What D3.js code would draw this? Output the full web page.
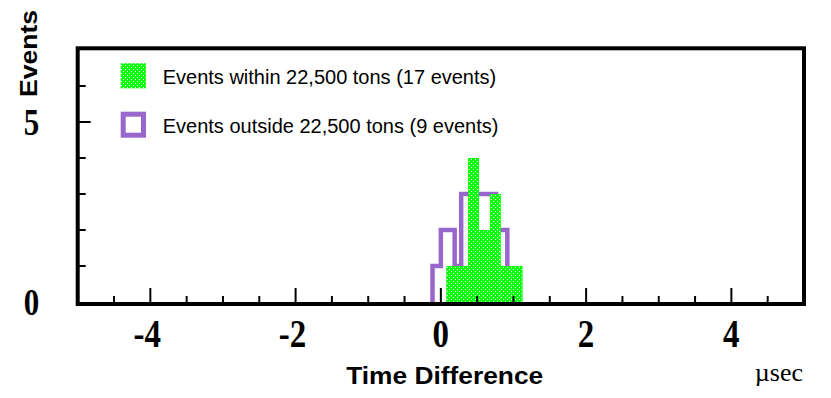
<!DOCTYPE html>
<html>
<head>
<meta charset="utf-8">
<script src="https://cdn.jsdelivr.net/npm/d3@7"></script>
<style>
  body { margin: 0; background: #fff; }
  svg { display: block; }
</style>
</head>
<body>
<div id="chart"></div>
<script>
// histogram bins (time difference, usec)
var greenEdges = [0.075, 0.225, 0.375, 0.525, 0.675, 0.825, 0.975, 1.125];
var greenCounts = [1, 1, 4, 2, 3, 1, 1];
var purpleEdges = [-0.115, 0, 0.19, 0.28, 0.76, 0.915];
var purpleCounts = [1, 2, 1, 3, 2];

var xMajorTicks = [-4, -2, 0, 2, 4];
var xMinorTicks = [-4.5, -3.5, -3, -2.5, -1.5, -1, -0.5, 0.5, 1, 1.5, 2.5, 3, 3.5, 4.5];
var yMajorTicks = [5];
var yMinorTicks = [1, 2, 3, 4, 6];
var yTickLabels = [0, 5];

var legendLabels = ['Events within 22,500 tons (17 events)', 'Events outside 22,500 tons (9 events)'];

var width = 831, height = 398;

var x = d3.scaleLinear().domain([-5, 5]).range([77.7, 804]);
var y = d3.scaleLinear().domain([0, 7]).range([302, 50]);

var svg = d3.select('#chart').append('svg')
    .attr('width', width)
    .attr('height', height);

// dotted green fill
var pat = svg.append('defs').append('pattern')
    .attr('id', 'dots')
    .attr('patternUnits', 'userSpaceOnUse')
    .attr('width', 4)
    .attr('height', 4);
pat.append('rect').attr('width', 4).attr('height', 4).attr('fill', '#00ff00');
pat.append('rect').attr('x', 1).attr('y', 1).attr('width', 1).attr('height', 1).attr('fill', '#fff');
pat.append('rect').attr('x', 3).attr('y', 3).attr('width', 1).attr('height', 1).attr('fill', '#fff');

// outside events: step outline
var pts = [[purpleEdges[0], 0]];
purpleCounts.forEach(function(c, i) {
    pts.push([purpleEdges[i], c]);
    pts.push([purpleEdges[i + 1], c]);
});
pts.push([purpleEdges[purpleEdges.length - 1], 0]);

svg.append('path')
    .attr('d', d3.line().x(function(d) { return x(d[0]); }).y(function(d) { return y(d[1]); })(pts))
    .attr('fill', 'none')
    .attr('stroke', '#9966cc')
    .attr('stroke-width', 4.5);

// inside events: filled bars
svg.selectAll('rect.bar')
    .data(greenCounts)
    .enter().append('rect')
    .attr('class', 'bar')
    .attr('x', function(d, i) { return x(greenEdges[i]); })
    .attr('y', function(d) { return y(d); })
    .attr('width', function(d, i) { return x(greenEdges[i + 1]) - x(greenEdges[i]); })
    .attr('height', function(d) { return y(0) - y(d); })
    .attr('fill', 'url(#dots)');

// frame
svg.append('rect')
    .attr('x', x(-5))
    .attr('y', y(7) - 1.7)
    .attr('width', x(5) - x(-5))
    .attr('height', y(0) + 2 - (y(7) - 1.7))
    .attr('fill', 'none')
    .attr('stroke', '#000')
    .attr('stroke-width', 4);

var yBase = y(0) + 2;

// x ticks
svg.selectAll('line.xmin').data(xMinorTicks).enter().append('line')
    .attr('x1', function(d) { return x(d); }).attr('x2', function(d) { return x(d); })
    .attr('y1', yBase).attr('y2', yBase - 8)
    .attr('stroke', '#000').attr('stroke-width', 2);
svg.selectAll('line.xmaj').data(xMajorTicks).enter().append('line')
    .attr('x1', function(d) { return x(d); }).attr('x2', function(d) { return x(d); })
    .attr('y1', yBase).attr('y2', yBase - 16)
    .attr('stroke', '#000').attr('stroke-width', 2);

// y ticks
var xBase = x(-5);
svg.selectAll('line.ymin').data(yMinorTicks).enter().append('line')
    .attr('x1', xBase).attr('x2', xBase + 8)
    .attr('y1', function(d) { return y(d); }).attr('y2', function(d) { return y(d); })
    .attr('stroke', '#000').attr('stroke-width', 2);
svg.selectAll('line.ymaj').data(yMajorTicks).enter().append('line')
    .attr('x1', xBase).attr('x2', xBase + 13)
    .attr('y1', function(d) { return y(d); }).attr('y2', function(d) { return y(d); })
    .attr('stroke', '#000').attr('stroke-width', 2);

// tick labels (tall serif digits)
svg.selectAll('text.xl').data(xMajorTicks).enter().append('text')
    .attr('transform', function(d) { return 'translate(' + (x(d) - (d < 0 ? 3 : 0)) + ',346.5) scale(1,1.2)'; })
    .attr('text-anchor', 'middle')
    .style('font-family', '"Liberation Serif", "DejaVu Serif", serif')
    .style('font-weight', 'bold')
    .style('font-size', '33px')
    .text(function(d) { return d; });

svg.selectAll('text.yl').data(yTickLabels).enter().append('text')
    .attr('transform', function(d) { return 'translate(31.5,' + (y(d) + 13) + ') scale(1,1.25)'; })
    .attr('text-anchor', 'middle')
    .style('font-family', '"Liberation Serif", "DejaVu Serif", serif')
    .style('font-weight', 'bold')
    .style('font-size', '31px')
    .text(function(d) { return d; });

// axis titles
svg.append('text')
    .attr('x', 444.7)
    .attr('y', 384.3)
    .attr('text-anchor', 'middle')
    .attr('textLength', 197)
    .attr('lengthAdjust', 'spacingAndGlyphs')
    .style('font-family', '"Liberation Sans", Arial, sans-serif')
    .style('font-weight', 'bold')
    .style('font-size', '24px')
    .text('Time Difference');

svg.append('text')
    .attr('x', 803)
    .attr('y', 381)
    .attr('text-anchor', 'end')
    .style('font-family', '"Liberation Serif", "DejaVu Serif", serif')
    .style('font-size', '26px')
    .text('\u00b5sec');

svg.append('text')
    .attr('transform', 'translate(37,53.5) rotate(-90)')
    .attr('text-anchor', 'middle')
    .attr('textLength', 87)
    .attr('lengthAdjust', 'spacingAndGlyphs')
    .style('font-family', '"Liberation Sans", Arial, sans-serif')
    .style('font-weight', 'bold')
    .style('font-size', '24px')
    .text('Events');

// legend
svg.append('rect')
    .attr('x', 120.7).attr('y', 63.3)
    .attr('width', 25.3).attr('height', 25)
    .attr('fill', 'url(#dots)');
svg.append('rect')
    .attr('x', 123.2).attr('y', 114.2)
    .attr('width', 20.3).attr('height', 21)
    .attr('fill', '#fff')
    .attr('stroke', '#9966cc')
    .attr('stroke-width', 5);

svg.selectAll('text.leg').data(legendLabels).enter().append('text')
    .attr('x', 162.7)
    .attr('y', function(d, i) { return 84.3 + i * 49; })
    .style('font-family', '"Liberation Sans", Arial, sans-serif')
    .style('font-size', '20px')
    .text(function(d) { return d; });
</script>
</body>
</html>
